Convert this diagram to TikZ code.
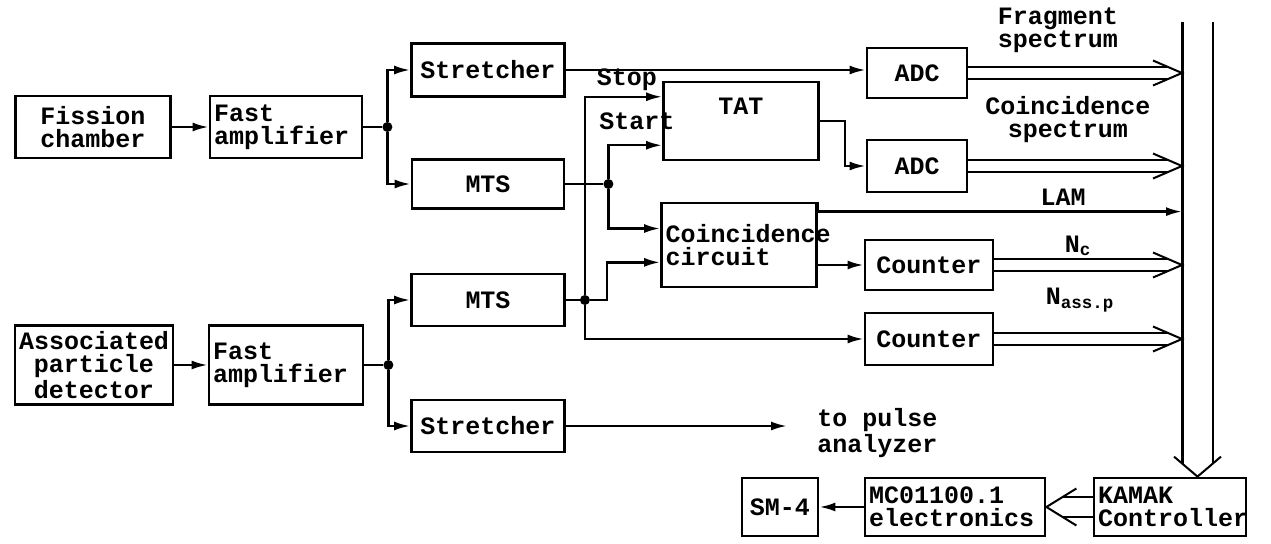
\documentclass[tikz,border=0pt]{standalone}
\usepackage{fontspec}
\setmonofont{Liberation Mono}
\usetikzlibrary{arrows.meta,calc}

\begin{document}
\begin{tikzpicture}[
  x=0.5pt, y=-0.5pt,
  font=\ttfamily\bfseries\fontsize{12.5}{11.5}\selectfont,
  blk/.style  = {draw, line width=1.4pt, inner xsep=2pt, inner ysep=0pt, align=center},
  ln/.style   = {-{Latex[length=8pt,width=4.5pt]}, line width=1.2pt},
  wire/.style = {line width=1.2pt},
  dbl/.style  = {double, double distance=5pt, line width=1pt},
  bus/.style  = {double, double distance=14pt, line width=1.2pt},
  dot/.style  = {circle, fill, inner sep=0pt, minimum size=5pt},
  lbl/.style  = {inner sep=1pt, align=center},
  pics/chev/.style args = {#1/#2}{code={
    \draw[line width=1pt, line join=miter] (-#1,-#2) -- (0,0) -- (-#1,#2);}},
]
\useasboundingbox (0,0) rectangle (1271,543);

% --- fission branch
\node[blk, text width=73.5pt, minimum height=31pt] (fis) at (93,127) {Fission\\chamber};
\node[blk, text width=72pt, minimum height=31pt, align=left] (amp1) at (286,127) {Fast\\amplifier};
\node[blk, text width=72.5pt, minimum height=26.5pt] (str1) at (488,70) {Stretcher};
\node[blk, text width=72pt, minimum height=24.5pt] (mts1) at (488,184) {MTS};

% --- associated particle branch
\node[blk, text width=75pt, minimum height=39.5pt] (apd) at (94,365) {Associated\\particle\\detector};
\node[blk, text width=73pt, minimum height=39.5pt, align=left] (amp2) at (286,365) {Fast\\amplifier};
\node[blk, text width=72.5pt, minimum height=26pt] (mts2) at (488,300) {MTS};
\node[blk, text width=72.5pt, minimum height=26pt] (str2) at (488,426) {Stretcher};

% --- timing and coincidence
\node[blk, text width=73.5pt, minimum height=39pt] (tat) at (741,121) {TAT\\\strut};
\node[blk, text width=73.5pt, minimum height=42pt, align=left] (coinc) at (739,245) {Coincidence\\circuit};

% --- converters and counters
\node[blk, text width=46pt, minimum height=25pt] (adc1) at (917,73) {ADC};
\node[blk, text width=46pt, minimum height=26pt] (adc2) at (917,166) {ADC};
\node[blk, text width=60pt, minimum height=25pt] (cnt1) at (929,265) {Counter};
\node[blk, text width=60pt, minimum height=26pt] (cnt2) at (929,339) {Counter};

% --- readout
\node[blk, text width=72pt, minimum height=29pt, align=left] (kamak) at (1170,507) {KAMAK\\Controller};
\node[blk, text width=86pt, minimum height=29pt, align=left] (mc) at (955,507) {MC01100.1\\electronics};
\node[blk, text width=34pt, minimum height=29pt] (sm4) at (780,507) {SM-4};

% --- labels
\node[lbl] (stoplbl) at (627,80) {Stop};
\node[lbl] (startlbl) at (637,121) {Start};
\node[lbl] (frag) at (1058,30) {Fragment\\spectrum};
\node[lbl] (cspec) at (1068,120) {Coincidence\\spectrum};
\node[lbl] (lamlbl) at (1063,197) {LAM};
\node[lbl] (nc) at (1078,246) {N\textsubscript{c}};
\node[lbl] (nass) at (1080,300) {N\textsubscript{ass.p}};
\node[lbl, anchor=west, align=left] (pulse) at (815,433) {to pulse\\analyzer};

% --- branch points
\node[dot] (j1) at ($(amp1.east)+(24,0)$) {};
\node[dot] (j2) at ($(amp2.east)+(24,0)$) {};
\node[dot] (j3) at ($(mts1.east)+(43,0)$) {};
\node[dot] (j4) at ($(mts2.east)+(19,0)$) {};

\coordinate (stop)  at ($(tat.north west)!0.2!(tat.south west)$);
\coordinate (start) at ($(tat.north west)!0.8!(tat.south west)$);
\coordinate (cin1)  at ($(coinc.north west)!0.31!(coinc.south west)$);
\coordinate (cin2)  at ($(coinc.north west)!0.7!(coinc.south west)$);

% --- signal lines
\draw[ln] (fis) -- (amp1);
\draw[wire] (amp1) -- (j1);
\draw[ln] (j1) |- (str1);
\draw[ln] (j1) |- (mts1);
\draw[ln] (apd) -- (amp2);
\draw[wire] (amp2) -- (j2);
\draw[ln] (j2) |- (mts2);
\draw[ln] (j2) |- (str2);
\draw[ln] (str1.east) -- (str1.east -| adc1.west);
\draw[wire] (mts1) -- (j3);
\draw[ln] (j3) |- (start);
\draw[ln] (j3) |- (cin1);
\draw[wire] (mts2) -- (j4);
\draw[ln] (j4) |- (stop);
\draw[ln] (j4) -- ++(22,0) |- (cin2);
\draw[ln] (j4) |- (cnt2);
\draw[ln] (tat.east) -- ++(25,0) |- (adc2);
\draw[ln] (coinc.east |- cnt1) -- (cnt1);
\draw[ln, shorten >=14pt] (str2.east) -- (str2.east -| pulse.west);

% --- data bus
\coordinate (busl) at (1182,22);
\coordinate (bust) at (1197.5,22);
\draw[bus, shorten >=6.5pt] (bust) -- (bust |- kamak.north);
\pic[rotate=-90] at (bust |- kamak.north) {chev=20/23.5};
\draw[ln] (coinc.north east) -- ++(0,10) coordinate (lam) -- (lam -| busl);
\foreach \n in {adc1,adc2,cnt1,cnt2}{
  \draw[dbl, shorten >=7pt] (\n.east) -- (\n.east -| busl);
  \pic at (\n.east -| busl) {chev=29/12.5};
}
\draw[dbl, double distance=9pt, shorten >=8.5pt] (kamak) -- (mc);
\pic[rotate=180] at (mc.east) {chev=30/18.5};
\draw[ln] (mc) -- (sm4);

\end{tikzpicture}
\end{document}
